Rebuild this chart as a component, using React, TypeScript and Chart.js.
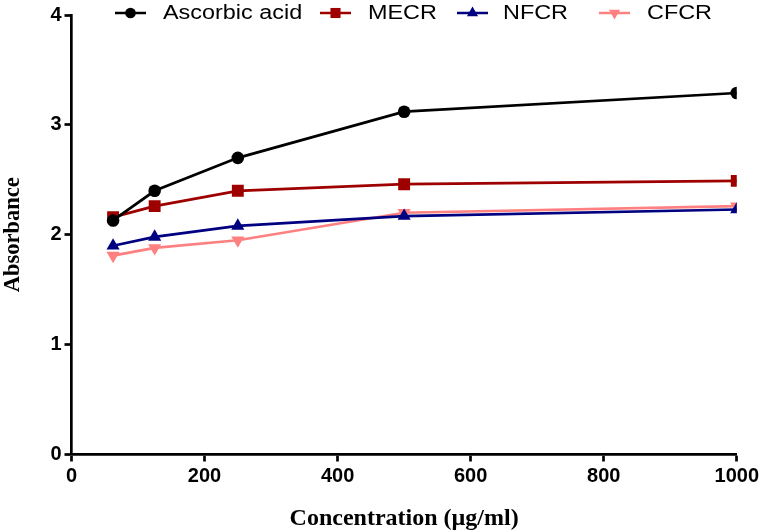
import React, { useEffect, useRef } from "react";
import { Chart, registerables } from "chart.js";
import { drawPoint } from "chart.js/helpers";

Chart.register(...registerables);

// ---- data ----
const concentrations = [62.5, 125, 250, 500, 1000];
const seriesNames = ["Ascorbic acid", "MECR", "NFCR", "CFCR"];
const ascorbicAcid = [2.13, 2.4, 2.7, 3.12, 3.29];
const mecr = [2.16, 2.26, 2.4, 2.46, 2.49];
const nfcr = [1.9, 1.98, 2.08, 2.17, 2.23];
const cfcr = [1.81, 1.88, 1.95, 2.2, 2.26];
const xTicks = [0, 200, 400, 600, 800, 1000];
const yTicks = [0, 1, 2, 3, 4];

const colors = ["#000000", "#9E0000", "#000080", "#FF8080"];
const pointStyles = ["circle", "rect", "triangle", "triangle"];
const pointRotations = [0, 0, 0, 180];
const pointRadii = [6.3, 8.4, 7.6, 7.6];

// legend layout (pixel positions of each item's marker start and text start)
const legendMarkerX = [115, 320, 457, 599];
const legendTextX = [163, 368, 503, 647];
const legendY = 13;
const legendLineLen = 31;

const legendPlugin = {
  id: "customLegend",
  afterDraw(chart: any) {
    const ctx = chart.ctx as CanvasRenderingContext2D;
    chart.data.datasets.forEach((ds: any, i: number) => {
      const x0 = legendMarkerX[i];
      ctx.save();
      ctx.strokeStyle = ds.borderColor;
      ctx.lineWidth = 2.5;
      ctx.beginPath();
      ctx.moveTo(x0, legendY);
      ctx.lineTo(x0 + legendLineLen, legendY);
      ctx.stroke();
      ctx.fillStyle = ds.pointBackgroundColor;
      ctx.strokeStyle = ds.pointBackgroundColor;
      drawPoint(
        ctx,
        {
          pointStyle: ds.pointStyle,
          radius: ds.pointRadius * 0.85,
          rotation: ds.pointRotation,
          borderWidth: 0,
        } as any,
        x0 + legendLineLen / 2,
        legendY
      );
      ctx.restore();

      ctx.save();
      ctx.fillStyle = "#000";
      ctx.font = '20px "Liberation Sans", Arial, sans-serif';
      ctx.textBaseline = "middle";
      ctx.textAlign = "left";
      ctx.translate(legendTextX[i], legendY);
      ctx.scale(1.17, 1);
      ctx.fillText(ds.label, 0, 0);
      ctx.restore();
    });
  },
};

export default function App() {
  const canvasRef = useRef<HTMLCanvasElement | null>(null);

  useEffect(() => {
    if (!canvasRef.current) return;
    const allSeries = [ascorbicAcid, mecr, nfcr, cfcr];
    const tickFont = {
      family: '"Liberation Sans", Arial, sans-serif',
      size: 20,
      weight: "bold" as const,
    };
    const serif = '"Liberation Serif", "Times New Roman", serif';
    const chart = new Chart(canvasRef.current, {
      type: "line",
      data: {
        datasets: allSeries.map((vals, i) => ({
          label: seriesNames[i],
          data: concentrations.map((x, j) => ({ x, y: vals[j] })),
          borderColor: colors[i],
          backgroundColor: colors[i],
          pointBackgroundColor: colors[i],
          pointBorderColor: colors[i],
          pointBorderWidth: 0,
          pointStyle: pointStyles[i] as any,
          pointRotation: pointRotations[i],
          pointRadius: pointRadii[i],
          borderWidth: 2.7,
          tension: 0,
          fill: false,
        })),
      },
      options: {
        responsive: false,
        animation: false,
        layout: { padding: { top: 15, right: 24.5, left: 0, bottom: 0 } },
        plugins: {
          legend: { display: false },
          tooltip: { enabled: false },
        },
        scales: {
          x: {
            type: "linear",
            min: 0,
            max: 1000,
            afterBuildTicks: (scale: any) => {
              scale.ticks = xTicks.map((v) => ({ value: v }));
            },
            ticks: {
              font: tickFont,
              color: "#000",
              padding: 3,
              maxRotation: 0,
              callback: (v: any) => String(v),
            },
            grid: {
              drawOnChartArea: false,
              drawTicks: true,
              tickLength: 7,
              tickWidth: 2.7,
              tickColor: "#000",
            },
            border: { color: "#000", width: 2.7 },
            title: {
              display: true,
              text: "Concentration (µg/ml)",
              font: { family: serif, size: 24, weight: "bold" as const },
              color: "#000",
              padding: { top: 0, bottom: -1 },
            },
            afterFit: (scale: any) => {
              scale.height = 77.5;
            },
          },
          y: {
            type: "linear",
            min: 0,
            max: 4,
            afterBuildTicks: (scale: any) => {
              scale.ticks = yTicks.map((v) => ({ value: v }));
            },
            ticks: {
              font: tickFont,
              color: "#000",
              padding: 3,
              callback: (v: any) => String(v),
            },
            grid: {
              drawOnChartArea: false,
              drawTicks: true,
              tickLength: 7,
              tickWidth: 2.7,
              tickColor: "#000",
            },
            border: { color: "#000", width: 2.7 },
            title: {
              display: true,
              text: "Absorbance",
              font: { family: serif, size: 22.5, weight: "bold" as const },
              color: "#000",
              padding: { top: 0, bottom: 0 },
            },
            afterFit: (scale: any) => {
              scale.width = 71.5;
            },
          },
        },
      },
      plugins: [legendPlugin],
    });
    return () => chart.destroy();
  }, []);

  return (
    <div style={{ position: "fixed", left: 0, top: 0, width: 762, height: 532, background: "#fff" }}>
      <canvas ref={canvasRef} width={762} height={532} style={{ width: 762, height: 532, display: "block" }} />
    </div>
  );
}
